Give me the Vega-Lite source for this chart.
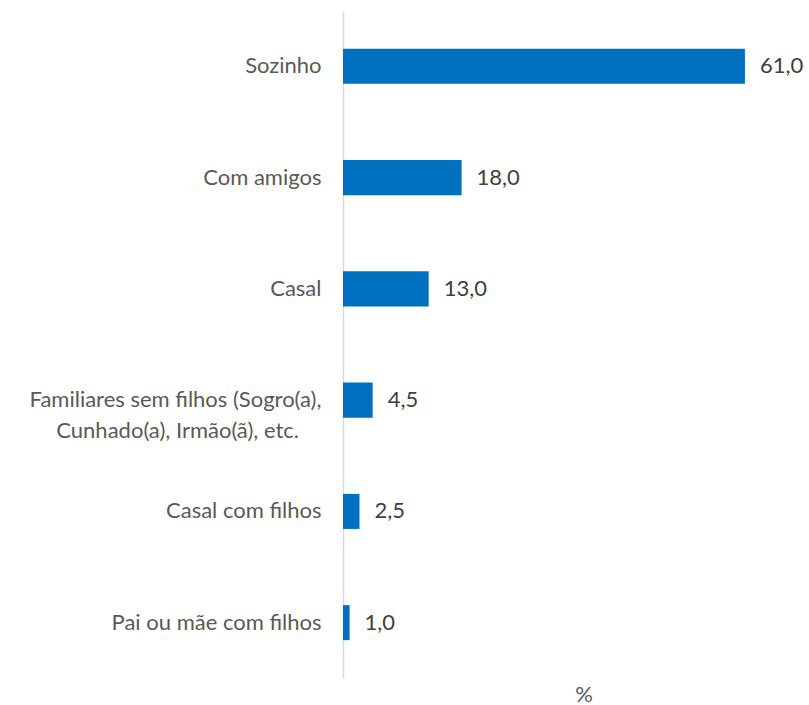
{
  "$schema": "https://vega.github.io/schema/vega-lite/v6.json",
  "autosize": {"type": "none"},
  "padding": {"left": 343, "top": 11, "right": 0, "bottom": 27},
  "width": 481,
  "height": 667,
  "background": "white",
  "config": {
    "view": {"stroke": null},
    "locale": {"number": {"decimal": ",", "thousands": ".", "grouping": [3], "currency": ["", " €"]}},
    "font": "Lato"
  },
  "data": {
    "values": [
      {"categoria": "Sozinho", "valor": 61.0},
      {"categoria": "Com amigos", "valor": 18.0},
      {"categoria": "Casal", "valor": 13.0},
      {"categoria": "Familiares sem filhos (Sogro(a), Cunhado(a), Irmão(ã), etc.", "valor": 4.5},
      {"categoria": "Casal com filhos", "valor": 2.5},
      {"categoria": "Pai ou mãe com filhos", "valor": 1.0}
    ]
  },
  "encoding": {
    "y": {
      "field": "categoria",
      "type": "nominal",
      "sort": null,
      "scale": {"paddingInner": 0.685, "paddingOuter": 0.34},
      "axis": {
        "title": null,
        "ticks": false,
        "domainColor": "#D9D9D9",
        "domainWidth": 1.5,
        "labelPadding": 22,
        "labelFontSize": 22,
        "labelColor": "#595959",
        "labelLimit": 400,
        "labelLineHeight": 31,
        "labelExpr": "indexof(datum.value, 'Familiares') == 0 ? ['Familiares sem filhos (Sogro(a),', 'Cunhado(a), Irmão(ã), etc.\u00a0\u00a0\u00a0\u00a0\u200d'] : datum.value"
      }
    },
    "x": {
      "field": "valor",
      "type": "quantitative",
      "scale": {"domain": [0, 73], "nice": false},
      "axis": {
        "title": "%",
        "labels": false,
        "ticks": false,
        "domain": false,
        "grid": false,
        "titleFontSize": 22,
        "titleFontWeight": "normal",
        "titleColor": "#595959",
        "titlePadding": 6
      }
    }
  },
  "layer": [
    {"mark": {"type": "bar", "color": "#0070C0"}},
    {
      "mark": {"type": "text", "align": "left", "dx": 15, "fontSize": 22, "color": "#404040"},
      "encoding": {"text": {"field": "valor", "type": "quantitative", "format": ".1f"}}
    }
  ]
}
